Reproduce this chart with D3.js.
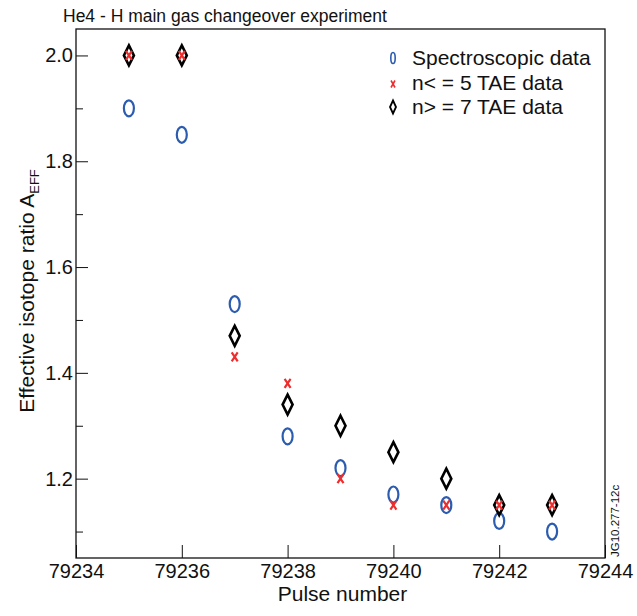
<!DOCTYPE html>
<html><head><meta charset="utf-8">
<script src="https://cdn.jsdelivr.net/npm/d3@7"></script>
<style>body{margin:0;background:#fff}svg{display:block}text{font-family:"Liberation Sans",Arial,sans-serif;fill:#111}</style>
</head><body><svg id="c" width="637" height="616"></svg>
<script>
const pulses = [79235, 79236, 79237, 79238, 79239, 79240, 79241, 79242, 79243];
const spectroscopic = [1.90, 1.85, 1.53, 1.28, 1.22, 1.17, 1.15, 1.12, 1.10];
const taeLow = [2.00, 2.00, 1.43, 1.38, 1.20, 1.15, 1.15, 1.15, 1.15];
const taeHigh = [2.00, 2.00, 1.47, 1.34, 1.30, 1.25, 1.20, 1.15, 1.15];
const xTicks = [79234, 79236, 79238, 79240, 79242, 79244];
const yTicks = [1.2, 1.4, 1.6, 1.8, 2.0];
const yMinor = [1.1, 1.3, 1.5, 1.7, 1.9];
const legendLabels = ["Spectroscopic data", "n< = 5 TAE data", "n> = 7 TAE data"];
const titleText = "He4 - H main gas changeover experiment";

const svg = d3.select("#c");
const L = 76, R = 605, T = 29, B = 558;
const x = d3.scaleLinear().domain([79234, 79244]).range([L, R]);
const y = d3.scaleLinear().domain([1.05, 2.05]).range([B, T]);
const blue = "#2b5cb0", red = "#ee2e2e";
const FF = '"Liberation Sans",Arial,sans-serif';

// frame
svg.append("rect").attr("x", L).attr("y", T).attr("width", R - L).attr("height", B - T)
  .attr("fill", "none").attr("stroke", "#111").attr("stroke-width", 1.3);

// axes
const xAxis = d3.axisBottom(x).tickValues(xTicks).tickSize(-13).tickFormat(d3.format("d"));
const gx = svg.append("g").attr("transform", `translate(0,${B})`).call(xAxis);
gx.select(".domain").remove();
gx.selectAll("line").attr("stroke", "#111").attr("stroke-width", 1);
gx.selectAll("text").attr("font-size", 20).attr("dy", "0em").attr("y", 20).attr("fill", "#111")
  .attr("font-family", FF);

const yAxis = d3.axisLeft(y).tickValues(yTicks).tickSize(-12).tickFormat(d3.format(".1f"));
const gy = svg.append("g").attr("transform", `translate(${L},0)`).call(yAxis);
gy.select(".domain").remove();
gy.selectAll("line").attr("stroke", "#111").attr("stroke-width", 1);
gy.selectAll("text").attr("font-size", 20).attr("x", -3).attr("fill", "#111")
  .attr("font-family", FF);
const yAxisMinor = d3.axisLeft(y).tickValues(yMinor).tickSize(-7).tickFormat("");
const gym = svg.append("g").attr("transform", `translate(${L},0)`).call(yAxisMinor);
gym.select(".domain").remove();
gym.selectAll("line").attr("stroke", "#111").attr("stroke-width", 1);

// title
svg.append("text").attr("x", 63).attr("y", 22).attr("font-size", 17.5).text(titleText);

// axis labels
svg.append("text").attr("x", (L + R) / 2 + 2).attr("y", 601).attr("text-anchor", "middle")
  .attr("font-size", 21).text("Pulse number");
const yl = svg.append("text").attr("transform", "translate(34,291) rotate(-90)")
  .attr("text-anchor", "middle").attr("font-size", 21);
yl.append("tspan").text("Effective isotope ratio A");
yl.append("tspan").attr("font-size", 13).attr("dy", 5).text("EFF");

svg.append("text").attr("transform", "translate(619,557) rotate(-90)")
  .attr("font-size", 11.5).text("JG10.277-12c");

// markers
function ellipse(g, cx, cy, rx, ry, sw) {
  g.append("ellipse").attr("cx", cx).attr("cy", cy).attr("rx", rx).attr("ry", ry)
    .attr("fill", "none").attr("stroke", blue).attr("stroke-width", sw);
}
function cross(g, cx, cy, hw, hh, sw) {
  g.append("path").attr("d", `M${cx - hw},${cy - hh}L${cx + hw},${cy + hh}M${cx + hw},${cy - hh}L${cx - hw},${cy + hh}`)
    .attr("stroke", red).attr("stroke-width", sw).attr("fill", "none");
}
function diamond(g, cx, cy, hw, hh, sw) {
  g.append("path").attr("d", `M${cx},${cy - hh}L${cx + hw},${cy}L${cx},${cy + hh}L${cx - hw},${cy}Z`)
    .attr("stroke", "#000").attr("stroke-width", sw).attr("fill", "none").attr("stroke-linejoin", "miter");
}
const gm = svg.append("g");
pulses.forEach((p, i) => ellipse(gm, x(p), y(spectroscopic[i]), 5, 8, 2.2));
pulses.forEach((p, i) => diamond(gm, x(p), y(taeHigh[i]), 5, 10, 2.6));
pulses.forEach((p, i) => cross(gm, x(p), y(taeLow[i]), 3, 4.5, 2.2));

// legend
const lg = svg.append("g");
const ly = [58, 83, 107];
ellipse(lg, 393, ly[0], 2.2, 5.5, 1.6);
cross(lg, 393, ly[1] + 1, 2, 3.5, 1.6);
diamond(lg, 393, ly[2], 3, 6.5, 1.8);
legendLabels.forEach((t, i) => lg.append("text").attr("x", 412).attr("y", ly[i] + 7).attr("font-size", 21).text(t));
</script></body></html>
